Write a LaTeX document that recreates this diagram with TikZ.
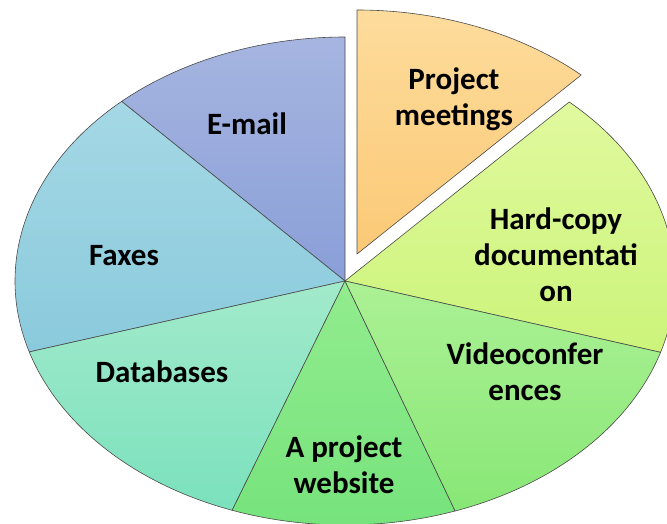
\documentclass[tikz,border=0pt]{standalone}
\usepackage{fontspec}
\setmainfont{Carlito}
\usetikzlibrary{calc}
\definecolor{edgecol}{HTML}{4A4A4A}
\definecolor{pmTop}{HTML}{FDDC9C}\definecolor{pmBot}{HTML}{FBC976}
\definecolor{emTop}{HTML}{A6B5E0}\definecolor{emBot}{HTML}{8A9FD8}
\definecolor{fxTop}{HTML}{A5D8E5}\definecolor{fxBot}{HTML}{8ACADC}
\definecolor{dbTop}{HTML}{A2EACB}\definecolor{dbBot}{HTML}{7BE1BD}
\definecolor{wsTop}{HTML}{92EC8E}\definecolor{wsBot}{HTML}{76E37C}
\definecolor{vcTop}{HTML}{ACF195}\definecolor{vcBot}{HTML}{88E776}
\definecolor{hcTop}{HTML}{E0F99E}\definecolor{hcBot}{HTML}{CCF47A}
\tikzset{
  slice/.style={draw=edgecol, line width=0.6pt, line join=round},
  lbl/.style={align=center, font=\fontsize{31}{36}\selectfont\bfseries, text=black, inner sep=0pt},
}
\newcommand{\pieslice}[5]{% center, start, end, top, bottom
  \shadedraw[slice, top color=#4, bottom color=#5]
    (#1) -- ($(#1)+(#2:330pt and 244pt)$)
    arc[start angle=#2, end angle=#3, x radius=330pt, y radius=244pt] -- cycle;
}
\begin{document}
\begin{tikzpicture}[x=1pt,y=1pt]
\useasboundingbox (0,0) rectangle (667,523);
\clip (0,0) rectangle (667,523);
\coordinate (c) at (345,242);
\coordinate (cx) at (357,269);
\pieslice{c}{-17}{47.2}{hcTop}{hcBot}
\pieslice{cx}{47.2}{90}{pmTop}{pmBot}
\pieslice{c}{90}{132.6}{emTop}{emBot}
\pieslice{c}{132.6}{196.9}{fxTop}{fxBot}
\pieslice{c}{196.9}{250}{dbTop}{dbBot}
\pieslice{c}{250}{289.5}{wsTop}{wsBot}
\pieslice{c}{289.5}{343}{vcTop}{vcBot}
\node[lbl] (pm) at (454,424) {Project\\meetings};
\node[lbl] (em) at (247,399) {E-mail};
\node[lbl] (fx) at (124,267) {Faxes};
\node[lbl] (hc) at (556,268) {Hard-copy\\documentati\\on};
\node[lbl] (vc) at (525,151) {Videoconfer\\ences};
\node[lbl] (db) at (162,151) {Databases};
\node[lbl] (ws) at (344,58) {A project\\website};
\end{tikzpicture}
\end{document}
